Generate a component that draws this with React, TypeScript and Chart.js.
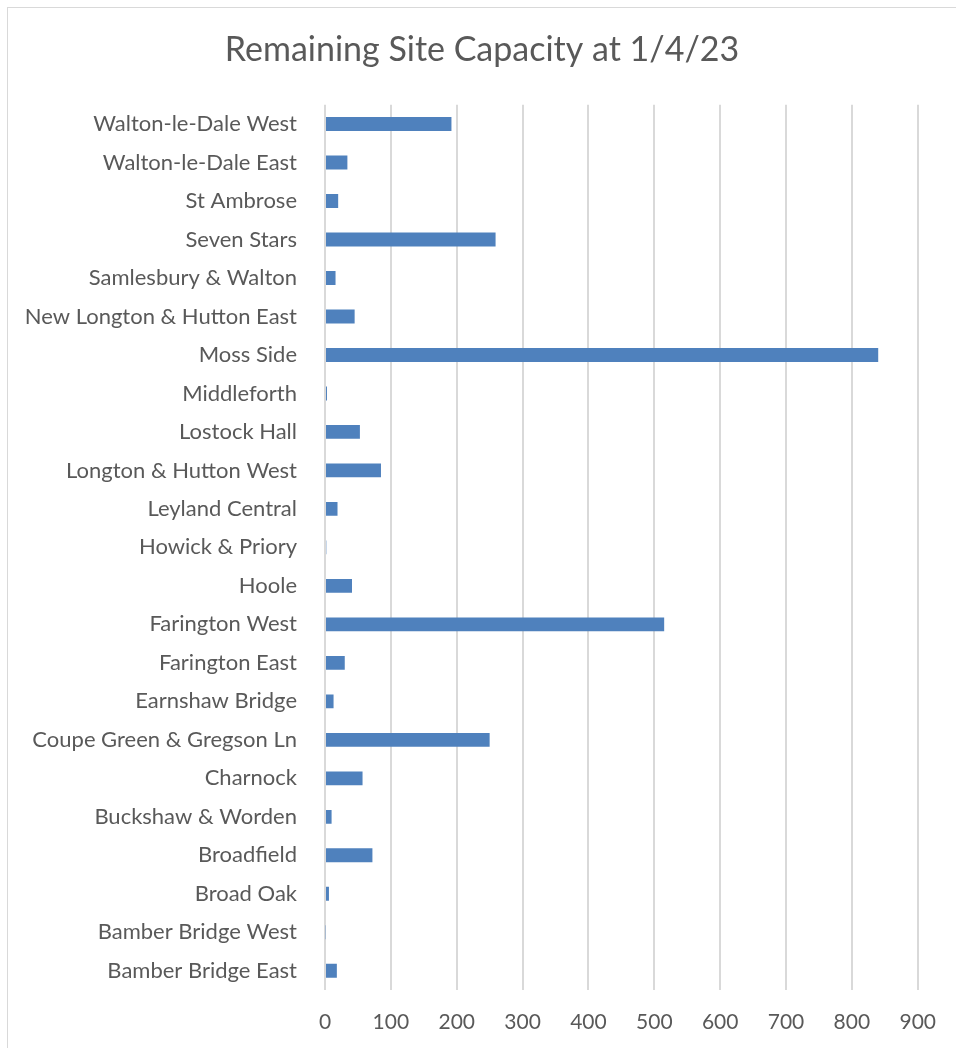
import React, { useEffect, useRef } from "react";
import { Chart, registerables } from "chart.js";

Chart.register(...registerables);

const categories: string[] = [
  "Walton-le-Dale West",
  "Walton-le-Dale East",
  "St Ambrose",
  "Seven Stars",
  "Samlesbury & Walton",
  "New Longton & Hutton East",
  "Moss Side",
  "Middleforth",
  "Lostock Hall",
  "Longton & Hutton West",
  "Leyland Central",
  "Howick & Priory",
  "Hoole",
  "Farington West",
  "Farington East",
  "Earnshaw Bridge",
  "Coupe Green & Gregson Ln",
  "Charnock",
  "Buckshaw & Worden",
  "Broadfield",
  "Broad Oak",
  "Bamber Bridge West",
  "Bamber Bridge East",
];

const capacity: number[] = [
  192, 34, 20, 259, 16, 45, 840, 3, 53, 85, 19, 2, 41, 515, 30, 13, 250, 57, 10, 72, 6, 1, 18,
];

const titleText = "Remaining Site Capacity at 1/4/23";
const xMin = 0;
const xMax = 900;
const xStep = 100;

const FONT = "Lato, 'Open Sans', sans-serif";
const TEXT = "#595959";
const GRID = "#d9d9d9";

export default function App() {
  const ref = useRef<HTMLCanvasElement | null>(null);

  useEffect(() => {
    if (!ref.current) return;
    const chart = new Chart(ref.current, {
      type: "bar",
      data: {
        labels: categories,
        datasets: [
          {
            data: capacity,
            backgroundColor: "#4f81bd",
            borderWidth: 0,
            barPercentage: 0.36,
            categoryPercentage: 1,
          },
        ],
      },
      options: {
        indexAxis: "y",
        animation: false,
        responsive: false,
        maintainAspectRatio: false,
        layout: { padding: { left: 0, right: 0, top: 0, bottom: 0 } },
        plugins: {
          legend: { display: false },
          tooltip: { enabled: false },
          title: {
            display: true,
            text: titleText,
            color: TEXT,
            font: { family: FONT, size: 34, weight: "normal" },
            padding: { top: 22, bottom: 34 },
          },
        },
        scales: {
          x: {
            min: xMin,
            max: xMax,
            ticks: {
              stepSize: xStep,
              color: TEXT,
              font: { family: FONT, size: 21 },
              padding: 20,
            },
            grid: { color: GRID, lineWidth: 2, drawTicks: false },
            border: { display: false },
            afterFit: (s: any) => {
              s.height = 58;
            },
          },
          y: {
            ticks: {
              color: TEXT,
              font: { family: FONT, size: 22 },
              padding: 28,
              autoSkip: false,
            },
            grid: { display: false, drawTicks: false },
            border: { display: false },
            afterFit: (s: any) => {
              s.width = 317;
            },
          },
        },
      },
    });
    return () => chart.destroy();
  }, []);

  return (
    <div
      style={{
        position: "absolute",
        left: 7,
        top: 7,
        width: 949,
        height: 1041,
        borderTop: "1px solid #d9d9d9",
        borderLeft: "1px solid #d9d9d9",
        boxSizing: "border-box",
        background: "#fff",
      }}
    >
      <canvas ref={ref} width={948} height={1040} style={{ display: "block" }} />
    </div>
  );
}
